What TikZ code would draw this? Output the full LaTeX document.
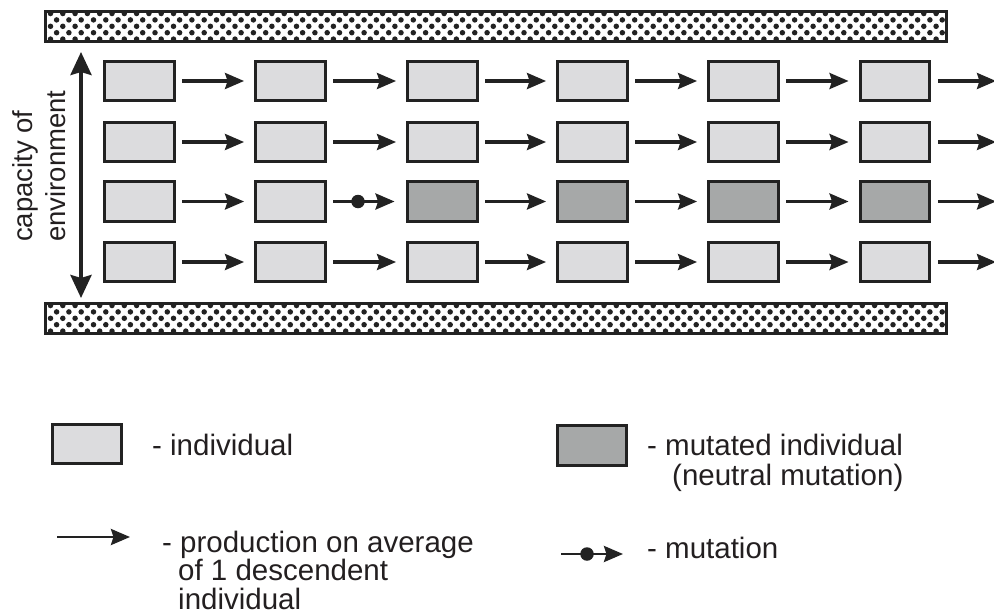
\documentclass[tikz,border=0pt]{standalone}
\usepackage{fontspec}
\setmainfont{Liberation Sans}
\usetikzlibrary{arrows.meta}
\definecolor{ink}{HTML}{222222}
\definecolor{lightfill}{HTML}{DCDCDE}
\definecolor{mutfill}{HTML}{A6A8A8}
\definecolor{txt}{HTML}{231F20}
\tikzset{
  indiv/.style={draw=ink, line width=3.4pt, fill=lightfill, minimum width=69.5pt, minimum height=39.5pt, inner sep=0pt},
  mutind/.style={indiv, fill=mutfill},
  arr/.style={draw=ink, line width=3.1pt, -{Stealth[length=19pt,width=16pt,inset=2.5pt]}, shorten <=6.5pt, shorten >=10pt},
  mdot/.style={circle, fill=ink, inner sep=0pt, minimum size=13.5pt},
  lbl/.style={text=txt, font=\fontsize{29.5}{30}\selectfont, inner sep=0pt, align=left, anchor=base west},
  vlbl/.style={text=txt, font=\fontsize{27.5}{33}\selectfont, inner sep=0pt, rotate=90, anchor=base west},
  band/.style={draw=ink, line width=3pt},
}
\begin{document}
\begin{tikzpicture}[x=1pt,y=-1pt]
\useasboundingbox (0,0) rectangle (994,616);
% dotted bands
\foreach \t in {11,303} {
  \begin{scope}
    \clip (45,\t) rectangle (946.5,\t+30);
    \foreach \k in {0,...,4} {
      \pgfmathsetmacro\yy{\t+2.5+6.4*\k}
      \pgfmathsetmacro\xo{ifthenelse(mod(\k,2)==0,50.5,44.3)}
      \foreach \i in {0,...,74} \fill[ink] (\xo+12.3*\i,\yy) circle (2.75pt);
    }
  \end{scope}
  \draw[band] (45,\t) rectangle (946.5,\t+30);
}
% boxes
\foreach \r/\y in {1/81,2/142,4/262}
  \foreach \c/\x in {1/139.5,2/290.5,3/442.5,4/592.5,5/743.5,6/895}
    \node[indiv] (b\r\c) at (\x,\y) {};
\foreach \c/\x in {1/139.5,2/290.5}
  \node[indiv] (b3\c) at (\x,201.5) {};
\foreach \c/\x in {3/442.5,4/592.5,5/743.5,6/895}
  \node[mutind] (b3\c) at (\x,201.5) {};
% arrows
\foreach \r in {1,2,4}
  \foreach \c/\d in {1/2,2/3,3/4,4/5,5/6}
    \draw[arr] (b\r\c.east) -- (b\r\d.west);
\foreach \c/\d in {1/2,3/4,4/5,5/6}
  \draw[arr] (b3\c.east) -- (b3\d.west);
\foreach \r/\y in {1/81,2/142,3/201.5,4/262} {
  \coordinate (e\r) at (996,\y);
  \draw[arr, shorten >=0pt] (b\r6.east) -- (e\r);
}
% mutation arrow
\draw[arr, shorten >=11.5pt] (b32.east) -- (b33.west);
\node[mdot] (md) at (358,201.5) {};
% capacity arrow
\coordinate (vt) at (81,52);
\coordinate (vb) at (81,298);
\draw[draw=ink, line width=3.8pt, {Stealth[length=23pt,width=21pt,inset=3pt]}-{Stealth[length=23pt,width=21pt,inset=3pt]}] (vb) -- (vt);
\node[vlbl] (cap1) at (32,242) {capacity of};
\node[vlbl] (cap2) at (65,242) {environment};
% legend
\node[indiv] (li) at (87,444) {};
\node[lbl] (lit) at (152,455) {- individual};
\coordinate (la1) at (57,537);
\coordinate (la2) at (130,537);
\draw[arr, line width=2.8pt, shorten <=0pt, shorten >=0pt] (la1) -- (la2);
\node[lbl, font=\fontsize{29.5}{28.5}\selectfont] (lpt) at (162,609) {- production on average\\\hspace*{16pt}of 1 descendent\\\hspace*{16pt}individual};
\node[mutind] (lm) at (592,445.5) {};
\node[lbl] (lmt) at (647,485) {- mutated individual\\\hspace*{25pt}(neutral mutation)};
\coordinate (lm1) at (561,554);
\coordinate (lm2) at (623,554);
\draw[arr, line width=2.8pt, shorten <=0pt, shorten >=0pt] (lm1) -- (lm2);
\node[mdot] (lmd) at (587,554) {};
\node[lbl] (lmut) at (647,558) {- mutation};
\end{tikzpicture}
\end{document}
